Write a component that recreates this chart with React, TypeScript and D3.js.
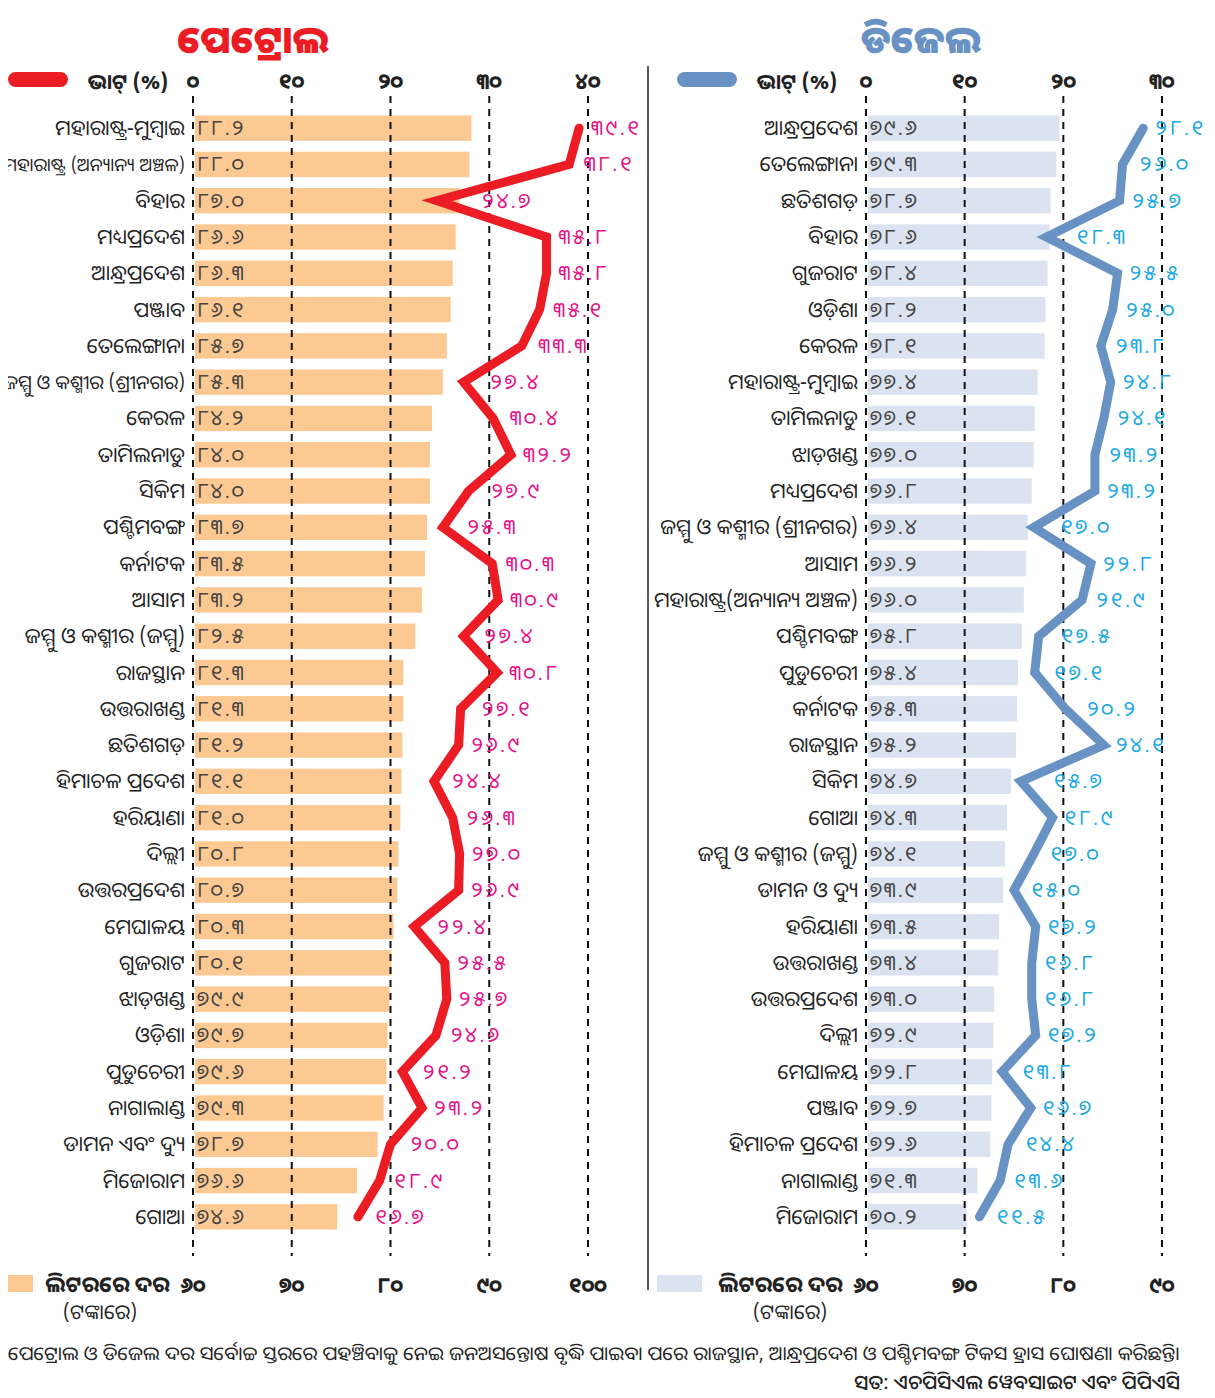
import React, { useLayoutEffect, useRef } from "react";
import * as d3 from "d3";

// petrol panel
const petrolStates = [
  "ମହାରାଷ୍ଟ୍ର-ମୁମ୍ବାଇ", "ମହାରାଷ୍ଟ୍ର (ଅନ୍ୟାନ୍ୟ ଅଞ୍ଚଳ)", "ବିହାର", "ମଧ୍ୟପ୍ରଦେଶ", "ଆନ୍ଧ୍ରପ୍ରଦେଶ", "ପଞ୍ଜାବ",
  "ତେଲେଙ୍ଗାନା", "ଜମ୍ମୁ ଓ କଶ୍ମୀର (ଶ୍ରୀନଗର)", "କେରଳ", "ତାମିଲନାଡୁ", "ସିକିମ", "ପଶ୍ଚିମବଙ୍ଗ", "କର୍ନାଟକ",
  "ଆସାମ", "ଜମ୍ମୁ ଓ କଶ୍ମୀର (ଜମ୍ମୁ)", "ରାଜସ୍ଥାନ", "ଉତ୍ତରାଖଣ୍ଡ", "ଛତିଶଗଡ଼", "ହିମାଚଳ ପ୍ରଦେଶ", "ହରିୟାଣା",
  "ଦିଲ୍ଲୀ", "ଉତ୍ତରପ୍ରଦେଶ", "ମେଘାଳୟ", "ଗୁଜରାଟ", "ଝାଡ଼ଖଣ୍ଡ", "ଓଡ଼ିଶା", "ପୁଡୁଚେରୀ", "ନାଗାଲାଣ୍ଡ",
  "ଡାମନ ଏବଂ ଦ୍ୟୁ", "ମିଜୋରାମ", "ଗୋଆ",
];
const petrolPrice = [
  88.2, 88.0, 87.0, 86.6, 86.3, 86.1, 85.7, 85.3, 84.2, 84.0, 84.0, 83.7, 83.5, 83.2, 82.5, 81.3,
  81.3, 81.2, 81.1, 81.0, 80.8, 80.7, 80.3, 80.1, 79.9, 79.7, 79.6, 79.3, 78.7, 76.6, 74.6,
];
const petrolVat = [
  39.1, 38.1, 24.7, 35.8, 35.8, 35.1, 33.3, 27.4, 30.4, 32.2, 27.9, 25.3, 30.3, 30.9, 27.4, 30.8,
  27.1, 26.9, 24.4, 26.3, 27.0, 26.9, 22.4, 25.5, 25.7, 24.6, 21.2, 23.2, 20.0, 18.9, 16.7,
];

// diesel panel
const dieselStates = [
  "ଆନ୍ଧ୍ରପ୍ରଦେଶ", "ତେଲେଙ୍ଗାନା", "ଛତିଶଗଡ଼", "ବିହାର", "ଗୁଜରାଟ", "ଓଡ଼ିଶା", "କେରଳ", "ମହାରାଷ୍ଟ୍ର-ମୁମ୍ବାଇ",
  "ତାମିଲନାଡୁ", "ଝାଡ଼ଖଣ୍ଡ", "ମଧ୍ୟପ୍ରଦେଶ", "ଜମ୍ମୁ ଓ କଶ୍ମୀର (ଶ୍ରୀନଗର)", "ଆସାମ", "ମହାରାଷ୍ଟ୍ର(ଅନ୍ୟାନ୍ୟ ଅଞ୍ଚଳ)",
  "ପଶ୍ଚିମବଙ୍ଗ", "ପୁଡୁଚେରୀ", "କର୍ନାଟକ", "ରାଜସ୍ଥାନ", "ସିକିମ", "ଗୋଆ", "ଜମ୍ମୁ ଓ କଶ୍ମୀର (ଜମ୍ମୁ)",
  "ଡାମନ ଓ ଦ୍ୟୁ", "ହରିୟାଣା", "ଉତ୍ତରାଖଣ୍ଡ", "ଉତ୍ତରପ୍ରଦେଶ", "ଦିଲ୍ଲୀ", "ମେଘାଳୟ", "ପଞ୍ଜାବ", "ହିମାଚଳ ପ୍ରଦେଶ",
  "ନାଗାଲାଣ୍ଡ", "ମିଜୋରାମ",
];
const dieselPrice = [
  79.6, 79.3, 78.7, 78.6, 78.4, 78.2, 78.1, 77.4, 77.1, 77.0, 76.8, 76.4, 76.2, 76.0, 75.8, 75.4,
  75.3, 75.2, 74.7, 74.3, 74.1, 73.9, 73.5, 73.4, 73.0, 72.9, 72.8, 72.7, 72.6, 71.3, 70.2,
];
const dieselVat = [
  28.1, 26.0, 25.7, 18.3, 25.5, 25.0, 23.8, 24.8, 24.1, 23.2, 23.2, 17.0, 22.8, 21.9, 17.5, 17.1,
  20.2, 24.1, 15.7, 18.9, 17.0, 15.0, 17.2, 16.8, 16.8, 17.2, 13.8, 16.7, 14.4, 13.6, 11.5,
];

const petrolPriceTicks = [60, 70, 80, 90, 100];
const petrolVatTicks = [0, 10, 20, 30, 40];
const dieselPriceTicks = [60, 70, 80, 90];
const dieselVatTicks = [0, 10, 20, 30];

const FONT = "'Noto Sans Oriya', 'Noto Sans', 'DejaVu Sans', sans-serif";

const odia = (s: string) => s.replace(/[0-9]/g, (c) => String.fromCharCode(0x0b66 + +c));

function Panel({ states, price, vat, priceTicks, vatTicks, x0, x1, title, lineColor, labelColor, barColor, titleX, legendX }) {
  const rows = states.map((_, i) => i);
  const y = d3.scaleBand<number>().domain(rows).range([110, 1235]).paddingInner(0.3).paddingOuter(0.15);
  const xp = d3.scaleLinear().domain([priceTicks[0], priceTicks[priceTicks.length - 1]]).range([x0, x1]);
  const xv = d3.scaleLinear().domain([0, vatTicks[vatTicks.length - 1]]).range([x0, x1]);
  const cy = (i: number) => y(i)! + y.bandwidth() / 2;
  const line = d3.line<number>().x((v) => xv(v)).y((_, i) => cy(i));

  // keep each label clear of the line just above and below its point
  const labelX = (i: number) => {
    const v = vat[i];
    const prev = i > 0 ? vat[i - 1] : v;
    const next = i < vat.length - 1 ? vat[i + 1] : v;
    const m = Math.max(v, v + (prev - v) * 0.25, v + (next - v) * 0.25);
    return xv(m) + 12;
  };

  return (
    <g fontFamily={FONT}>
      <text x={titleX} y={53} textAnchor="middle" fontSize={38} fontWeight="900" fill={lineColor}>{title}</text>
      <rect x={legendX} y={72} width={60} height={15} rx={7.5} fill={lineColor} />
      <text x={legendX + 120} y={89} textAnchor="middle" fontSize={21} fontWeight="bold" fill="#222">ଭାଟ୍ (%)</text>
      {vatTicks.map((t) => (
        <text key={t} x={xv(t)} y={89} textAnchor="middle" fontSize={22} fontWeight="bold" fill="#222">{odia(String(t))}</text>
      ))}
      {rows.map((i) => (
        <g key={i}>
          <rect x={x0 + 2} y={y(i)} width={xp(price[i]) - x0 - 2} height={y.bandwidth()} fill={barColor} />
          <text className="cat" data-right={x0 - 8} x={x0 - 8} y={cy(i) + 7} textAnchor="end" fontSize={21} fill="#222">{states[i]}</text>
          <text x={x0 + 4} y={cy(i) + 7} fontSize={21} letterSpacing={2} fill="#444">{odia(price[i].toFixed(1))}</text>
        </g>
      ))}
      {priceTicks.map((t) => (
        <line key={t} x1={xp(t)} x2={xp(t)} y1={96} y2={1256} stroke="#111" strokeWidth={2} strokeDasharray="7,6" />
      ))}
      <path d={line(vat) ?? ""} fill="none" stroke={lineColor} strokeWidth={9} strokeLinejoin="miter" strokeLinecap="round" />
      {rows.map((i) => (
        <text key={i} x={labelX(i)} y={cy(i) + 7} fontSize={21} letterSpacing={2.5} fill={labelColor}>{odia(vat[i].toFixed(1))}</text>
      ))}
      {priceTicks.map((t) => (
        <text key={t} x={xp(t)} y={1293} textAnchor="middle" fontSize={22} fontWeight="bold" fill="#222">{odia(String(t))}</text>
      ))}
    </g>
  );
}

export default function App() {
  const ref = useRef<SVGSVGElement>(null);

  // shrink the few state names that would run past the left edge
  useLayoutEffect(() => {
    d3.select(ref.current).selectAll<SVGTextElement, unknown>("text.cat").each(function () {
      const avail = +this.getAttribute("data-right")! - 3;
      const w = this.getComputedTextLength();
      if (w > avail) {
        this.setAttribute("font-size", String(Math.floor((21 * avail / w) * 10) / 10));
      }
    });
  }, []);

  return (
    <svg ref={ref} width={1215} height={1398} style={{ display: "block", margin: "-8px", background: "#fff" }}>
      <line x1={0} x2={1198} y1={4} y2={4} stroke="#777" strokeWidth={2} />
      <line x1={648} x2={648} y1={66} y2={1290} stroke="#222" strokeWidth={1.5} />
      <Panel
        states={petrolStates} price={petrolPrice} vat={petrolVat}
        priceTicks={petrolPriceTicks} vatTicks={petrolVatTicks}
        x0={193} x1={588} title="ପେଟ୍ରୋଲ" lineColor="#ec1c24" labelColor="#e4108a" barColor="#fcc993"
        titleX={253} legendX={8}
      />
      <Panel
        states={dieselStates} price={dieselPrice} vat={dieselVat}
        priceTicks={dieselPriceTicks} vatTicks={dieselVatTicks}
        x0={866} x1={1162} title="ଡିଜେଲ" lineColor="#6892c4" labelColor="#18a8e2" barColor="#dce3f0"
        titleX={921} legendX={677}
      />
      <g fontFamily={FONT} fill="#222">
        <rect x={0} y={1275} width={33} height={17} fill="#fcc993" />
        <text x={45} y={1292} fontSize={22} fontWeight="bold">ଲିଟରରେ ଦର</text>
        <text x={100} y={1319} textAnchor="middle" fontSize={20.5}>(ଟଙ୍କାରେ)</text>
        <rect x={657} y={1275} width={45} height={17} fill="#dce3f0" />
        <text x={718} y={1292} fontSize={22} fontWeight="bold">ଲିଟରରେ ଦର</text>
        <text x={790} y={1319} textAnchor="middle" fontSize={20.5}>(ଟଙ୍କାରେ)</text>
        <text x={8} y={1360} fontSize={19} textLength={1172} lengthAdjust="spacingAndGlyphs">
          ପେଟ୍ରୋଲ ଓ ଡିଜେଲ ଦର ସର୍ବୋଚ୍ଚ ସ୍ତରରେ ପହଞ୍ଚିବାକୁ ନେଇ ଜନଅସନ୍ତୋଷ ବୃଦ୍ଧି ପାଇବା ପରେ ରାଜସ୍ଥାନ, ଆନ୍ଧ୍ରପ୍ରଦେଶ ଓ ପଶ୍ଚିମବଙ୍ଗ ଟିକସ ହ୍ରାସ ଘୋଷଣା କରିଛନ୍ତି।
        </text>
        <text x={1180} y={1389} textAnchor="end" fontSize={20} fontWeight="500">ସୂତ୍ର: ଏଚ୍‌ପିସିଏଲ୍ ୱେବ୍‌ସାଇଟ୍ ଏବଂ ପିପିଏସି</text>
      </g>
    </svg>
  );
}
